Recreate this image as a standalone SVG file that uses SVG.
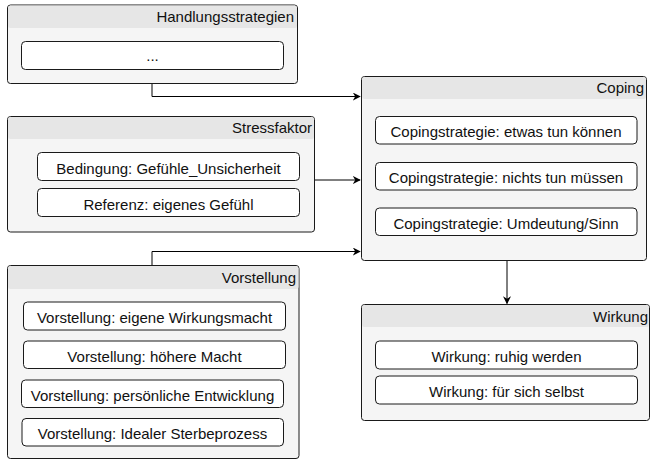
<svg xmlns="http://www.w3.org/2000/svg" width="651" height="460" viewBox="0 0 651 460">
<style>
.cont{fill:#f5f5f5;stroke:#1a1a1a;stroke-width:1}
.hdr{fill:#e6e6e6;stroke:none}
.item{fill:#ffffff;stroke:#1a1a1a;stroke-width:1}
text{font-family:"Liberation Sans",Arial,sans-serif;font-size:15px;fill:#111}
.t{text-anchor:end}
.c{text-anchor:middle}
.conn{fill:none;stroke:#000;stroke-width:1}
</style>
<defs>
<marker id="arr" viewBox="0 0 10 10" refX="9" refY="5" markerWidth="8" markerHeight="8" markerUnits="userSpaceOnUse" orient="auto">
<path d="M0,0 L10,5 L0,10 L3,5 Z" fill="#000"/>
</marker>
</defs>
<rect width="651" height="460" fill="#fff"/>

<g id="connectors">
<path class="conn" d="M152,83.5 V96.5 H360" marker-end="url(#arr)"/>
<path class="conn" d="M314.5,180 H360" marker-end="url(#arr)"/>
<path class="conn" d="M152,265.5 V251.5 H360" marker-end="url(#arr)"/>
<path class="conn" d="M507,261 V303.5" marker-end="url(#arr)"/>
</g>

<g id="handlungsstrategien">
<rect class="cont" x="7.5" y="5" width="290" height="78.5" rx="3"/>
<rect class="hdr" x="8" y="5.5" width="289" height="22.5" rx="2.5"/>
<text class="t" x="294" y="22.3">Handlungsstrategien</text>
<rect class="item" x="21.5" y="41.5" width="262" height="28" rx="4"/>
<text class="c" x="152.5" y="61">...</text>
</g>

<g id="stressfaktor">
<rect class="cont" x="7.5" y="116.5" width="307" height="115.5" rx="3"/>
<rect class="hdr" x="8" y="117" width="306" height="22" rx="2.5"/>
<text class="t" x="312" y="133.3">Stressfaktor</text>
<rect class="item" x="37.5" y="152.5" width="262" height="28" rx="4"/>
<text class="c" x="168.5" y="173.5">Bedingung: Gefühle_Unsicherheit</text>
<rect class="item" x="37.5" y="188.5" width="262" height="28" rx="4"/>
<text class="c" x="168.5" y="209.5">Referenz: eigenes Gefühl</text>
</g>

<g id="vorstellung">
<rect class="cont" x="7.5" y="265.5" width="291.5" height="193" rx="3"/>
<rect class="hdr" x="8" y="266" width="290.5" height="23" rx="2.5"/>
<text class="t" x="296" y="283.3">Vorstellung</text>
<rect class="item" x="23.5" y="302" width="262" height="28" rx="4"/>
<text class="c" x="154.5" y="322.5">Vorstellung: eigene Wirkungsmacht</text>
<rect class="item" x="23.5" y="341" width="262" height="27.5" rx="4"/>
<text class="c" x="154.5" y="361.5">Vorstellung: höhere Macht</text>
<rect class="item" x="21.5" y="380" width="262" height="27.5" rx="4"/>
<text class="c" x="152.5" y="400.5">Vorstellung: persönliche Entwicklung</text>
<rect class="item" x="22" y="418.5" width="261.5" height="27.5" rx="4"/>
<text class="c" x="152.5" y="439">Vorstellung: Idealer Sterbeprozess</text>
</g>

<g id="coping">
<rect class="cont" x="361.5" y="76.5" width="285" height="184" rx="3"/>
<rect class="hdr" x="362" y="77" width="284" height="22" rx="2.5"/>
<text class="t" x="644" y="93">Coping</text>
<rect class="item" x="375.5" y="116.5" width="261.5" height="27.5" rx="4"/>
<text class="c" x="506" y="137">Copingstrategie: etwas tun können</text>
<rect class="item" x="375.5" y="162.5" width="261.5" height="27.5" rx="4"/>
<text class="c" x="506" y="183">Copingstrategie: nichts tun müssen</text>
<rect class="item" x="375.5" y="208" width="261.5" height="27.5" rx="4"/>
<text class="c" x="506" y="228.5">Copingstrategie: Umdeutung/Sinn</text>
</g>

<g id="wirkung">
<rect class="cont" x="361.5" y="304.5" width="288" height="116" rx="3"/>
<rect class="hdr" x="362" y="305" width="287" height="22" rx="2.5"/>
<text class="t" x="648" y="321.7">Wirkung</text>
<rect class="item" x="375.5" y="341" width="262" height="28" rx="4"/>
<text class="c" x="506.5" y="361.5">Wirkung: ruhig werden</text>
<rect class="item" x="375.5" y="376" width="262" height="28" rx="4"/>
<text class="c" x="506.5" y="396.5">Wirkung: für sich selbst</text>
</g>
</svg>
